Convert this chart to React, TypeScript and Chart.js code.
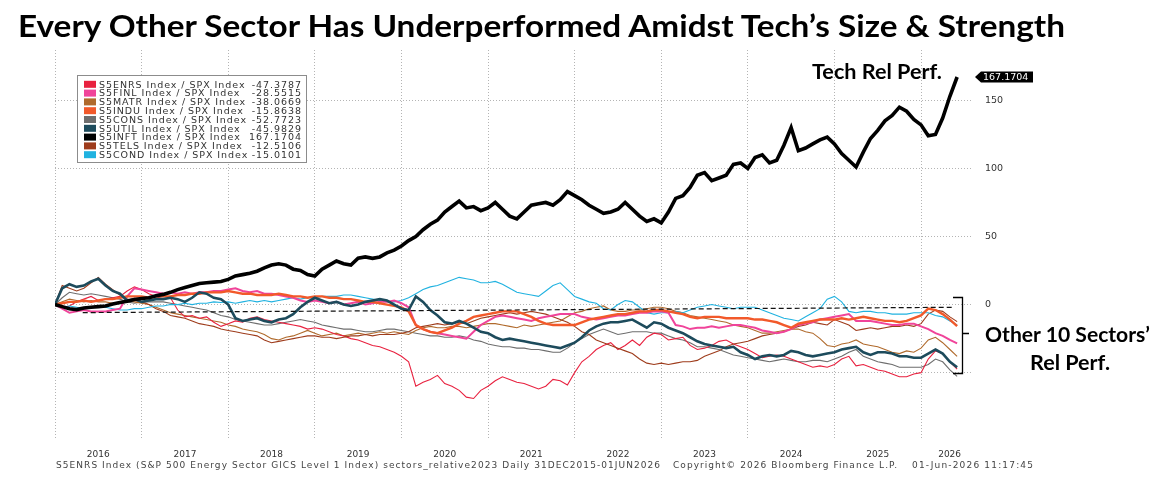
import React, { useEffect, useRef } from "react";
import { Chart, registerables } from "chart.js";

Chart.register(...registerables);

// Monthly observations, 31 Dec 2015 through 01 Jun 2026 (126 points per series)
const START_YEAR = 2016;
const X_MIN = 2016;
const X_MAX = 2026.6;

const yearGrid = [2016, 2017, 2018, 2019, 2020, 2021, 2022, 2023, 2024, 2025, 2026];
const yearLabelPos = [2016.5, 2017.5, 2018.5, 2019.5, 2020.5, 2021.5, 2022.5, 2023.5, 2024.5, 2025.5, 2026.33];
const yearLabels = ["2016", "2017", "2018", "2019", "2020", "2021", "2022", "2023", "2024", "2025", "2026"];
const yTicks = [-50, 0, 50, 100, 150];

// Relative performance vs SPX, in percent
const s5enrs = [
  0, -2, -1, 2, 4, 6, 3, 4, 5, 6, 10, 13,
  11, 8, 6, 4, 5, -4, -9, -8, -10, -9, -13, -16,
  -14, -12, -13, -10, -9, -11, -12, -13, -14, -15, -16, -18,
  -17, -18, -20, -22, -23, -25, -26, -28, -30, -31, -33, -35,
  -38, -42, -60, -57, -55, -52, -58, -60, -63, -68, -69, -63,
  -60, -56, -53, -55, -57, -58, -60, -62, -60, -55, -56, -59,
  -50, -42, -38, -33, -30, -28, -33, -30, -26, -30, -24, -21,
  -22, -26, -25, -24, -30, -33, -32, -30, -27, -26, -29, -31,
  -33, -36, -39, -38, -37, -38, -40, -42, -44, -46, -45, -46,
  -44, -40, -38, -45, -44, -46, -48, -49, -51, -53, -53, -51,
  -50, -40, -34, -36, -42, -47.3787,
];
const s5finl = [
  0, -3, -6, -5, -4, -5, -5, -5, -4, -3, 6, 12,
  11, 10, 9, 8, 9, 8, 9, 8, 9, 9, 10, 10,
  11, 12, 10, 9, 10, 8, 8, 7, 6, 5, 3, 2,
  3, 2, 1, 2, 0, 1, 2, 0, 1, 2, 2, 3,
  1, -2, -15, -18, -20, -21, -22, -23, -24, -25, -20, -15,
  -12, -9, -8, -9, -10, -11, -12, -10, -9, -8, -7, -7,
  -7, -9, -10, -11, -10, -9, -8, -8, -7, -6, -6, -5,
  -5, -6, -15, -16, -18, -17, -17, -16, -17, -16, -15, -15,
  -16, -17, -19, -20, -21, -20, -18, -15, -14, -13, -11, -10,
  -9, -8, -7, -12, -12, -12, -13, -14, -15, -15, -14, -14,
  -16, -18, -21, -23, -26, -28.5515,
];
const s5matr = [
  0, 2, 4, 3, 2, 3, 2, 2, 1, 2, 3, 2,
  1, 0, -2, -4, -6, -7, -8, -9, -10, -11, -12, -13,
  -15, -16, -18, -19, -20, -22, -25, -26, -24, -23, -21, -19,
  -21, -23, -22, -21, -23, -22, -21, -22, -21, -20, -21, -20,
  -21, -22, -19, -17, -16, -17, -17, -16, -16, -17, -16, -15,
  -14, -14, -15, -16, -17, -15, -16, -15, -14, -13, -12, -9,
  -6, -5, -3, -2, -1, -4, -5, -5, -4, -4, -3, -2,
  -2, -3, -5, -6, -8, -9, -10, -11, -12, -13, -15, -16,
  -17, -19, -21, -21, -20, -19, -18, -18, -20, -21, -25, -30,
  -31, -29, -28, -26, -29, -30, -31, -33, -35, -36, -34, -35,
  -32, -26, -24, -28, -33, -38.0669,
];
const s5indu = [
  0, 1, 2, 2, 3, 2, 3, 4, 4, 5, 6, 6,
  6, 5, 6, 6, 6, 7, 7, 8, 8, 9, 9, 9,
  10, 9, 8, 8, 7, 7, 7, 8, 7, 6, 6, 5,
  6, 6, 5, 5, 4, 4, 3, 2, 2, 1, 0, -1,
  -2, -5, -15, -18, -20, -21, -19, -17, -14, -12, -9, -8,
  -7, -6, -5, -5, -5, -7, -9, -12, -14, -15, -15, -15,
  -15, -13, -11, -10, -9, -8, -7, -7, -6, -5, -5, -4,
  -4, -5, -6, -7, -9, -10, -9, -9, -9, -10, -10, -10,
  -10, -11, -11, -12, -13, -15, -17, -14, -13, -12, -11, -11,
  -11, -10, -11, -10, -9, -10, -11, -12, -12, -13, -12, -10,
  -8, -3, -4, -7, -11, -15.8638,
];
const s5cons = [
  0, 5, 9, 8, 7, 8, 7, 6, 5, 4, 2, 1,
  2, 2, 2, 2, 1, 0, -1, -2, -3, -4, -6, -8,
  -9, -11, -12, -13, -14, -15, -15, -14, -13, -12, -11, -12,
  -13, -15, -16, -17, -18, -18, -19, -20, -20, -19, -18, -18,
  -19, -20, -21, -22, -23, -23, -24, -24, -23, -24, -26, -27,
  -29, -30, -31, -31, -32, -32, -33, -33, -34, -35, -35, -32,
  -28, -25, -22, -20, -18, -20, -22, -21, -20, -20, -20, -21,
  -21, -23, -25, -26, -28, -31, -31, -32, -33, -35, -37, -38,
  -39, -40, -41, -42, -41, -40, -41, -42, -42, -41, -41, -42,
  -40, -38, -35, -33, -38, -40, -42, -43, -44, -46, -46, -46,
  -46, -44, -40, -42, -48, -52.7723,
];
const s5util = [
  0, 12, 15, 13, 14, 17, 19, 14, 10, 8, 3, 4,
  2, 3, 4, 4, 5, 4, 2, 5, 9, 8, 5, 4,
  0, -10, -12, -11, -10, -12, -13, -11, -10, -7, -2, 2,
  5, 3, 1, 2, 0, -1, 0, 2, 3, 4, 3, 0,
  -3, -4, 6, 2, -4, -8, -13, -14, -12, -14, -17, -20,
  -21, -24, -26, -25, -26, -27, -28, -29, -30, -31, -32, -30,
  -28, -24, -19, -16, -14, -13, -13, -12, -11, -14, -17, -13,
  -14, -17, -19, -21, -24, -27, -29, -30, -31, -32, -31, -35,
  -37, -40, -38, -37, -38, -37, -34, -35, -37, -38, -37, -36,
  -35, -33, -32, -31, -35, -37, -35, -35, -36, -38, -38, -39,
  -39, -36, -33, -36, -42, -45.9829,
];
const s5inft = [
  0, -1.5, -3, -3.7, -2.5, -2, -1.5, -1, 0.5, 1.5, 2.5, 3.7,
  4.5, 5, 6.5, 7.5, 9, 11, 12.5, 14, 15.5, 16, 16.5, 17,
  18.5, 21, 22, 23, 24.5, 27, 29, 30, 29, 26, 25, 22,
  21, 26, 29, 32, 30, 29, 34, 35, 34, 35, 38, 40,
  43, 47, 50, 55, 59, 62, 68, 72, 76, 71, 72, 69,
  71, 75, 70, 65, 63, 68, 73, 74, 75, 73, 77, 83,
  80, 77, 73, 70, 67, 68, 70, 75, 70, 65, 61, 63,
  60, 68, 78, 80, 86, 95, 97, 91, 93, 95, 103, 104,
  100, 108, 110, 104, 106, 117, 130, 113, 115, 118, 121, 123,
  118, 111, 106, 101, 112, 122, 128, 135, 139, 145, 142, 136,
  132, 124, 125, 137, 153, 167.1704,
];
const s5tels = [
  0, 14, 12, 10, 12, 16, 20, 15, 11, 7, 4, 3,
  2, 0, -3, -5, -8, -9, -10, -12, -14, -15, -16, -18,
  -19, -20, -21, -22, -23, -26, -28, -27, -26, -25, -24, -23,
  -23, -24, -24, -25, -24, -23, -23, -22, -23, -22, -22, -22,
  -21, -20, -17, -16, -15, -14, -15, -14, -13, -14, -12, -10,
  -9, -8, -7, -6, -7, -6, -5, -6, -7, -9, -11, -13,
  -16, -20, -22, -26, -28, -30, -32, -34, -36, -40, -43, -44,
  -43, -44, -43, -42, -42, -41, -38, -36, -34, -31, -29, -28,
  -27, -25, -23, -22, -21, -20, -18, -16, -15, -13, -14, -15,
  -11, -13, -15, -19, -18, -17, -18, -17, -16, -16, -15, -16,
  -14, -7, -4, -5, -9, -12.5106,
];
const s5cond = [
  0, -2, -1, -2, -3, -2, -1, -2, -3, -4, -4, -3,
  -3, -2, -1, -1, 0, 0, 1, 0, 1, 1, 2, 1.5,
  2, 1, 2, 3, 2, 3, 2, 3, 4, 5, 4, 5,
  5, 6, 6, 6, 7, 7, 6, 5, 4, 3, 2, 2,
  3, 5, 8, 11, 13, 14, 16, 18, 20, 19, 18, 16,
  16, 17, 15, 12, 9, 8, 7, 6, 10, 14, 16, 11,
  6, 4, 2, 1, -3, -4, 0, 3, 2, -2, -6, -7,
  -6, -6, -5, -6, -4, -2, -1, 0, -1, -2, -3, -2,
  -2, -2, -4, -6, -8, -10, -11, -12, -9, -6, -3, 4,
  6, 2, -5, -6, -5, -5, -6, -6, -7, -7, -7, -6,
  -6, -6, -8, -9, -12, -15.0101,
];

// Dashed reference trend across the sector pack
const trendX = [2016.32, 2026.38];
const trendY = [-5.9, -2.0];

const sectorNames = ["S5ENRS", "S5FINL", "S5MATR", "S5INDU", "S5CONS", "S5UTIL", "S5INFT", "S5TELS", "S5COND"];
const sectorValues = [s5enrs, s5finl, s5matr, s5indu, s5cons, s5util, s5inft, s5tels, s5cond];
const sectorColors = ["#e8213f", "#f0449a", "#b06a2c", "#f2592a", "#6e6e6e", "#1d4b5c", "#000000", "#9e3c1c", "#20b2e0"];
const sectorWidths = [1.1, 2, 1.1, 2.4, 1.1, 2.6, 3.6, 1.1, 1.1];
// draw priority: lower numbers end up on top
const sectorOrder = [6, 3, 7, 2, 8, 1, 0, 5, 4];

const toPoints = (vals: number[]) => vals.map((v, i) => ({ x: START_YEAR + i / 12, y: v }));

const UI_FONT = '"DejaVu Sans", Verdana, sans-serif';
const HEAD_FONT = 'Lato, "Open Sans", sans-serif';

const lastValueBadge = {
  id: "lastValueBadge",
  afterDatasetsDraw(chart: any) {
    const { ctx, chartArea, scales } = chart;
    const v = s5inft[s5inft.length - 1];
    const y = Math.round(scales.y.getPixelForValue(v));
    const x = chartArea.right + 2;
    ctx.save();
    ctx.fillStyle = "#000";
    ctx.beginPath();
    ctx.moveTo(x, y);
    ctx.lineTo(x + 6, y - 5.5);
    ctx.lineTo(x + 58, y - 5.5);
    ctx.lineTo(x + 58, y + 5.5);
    ctx.lineTo(x + 6, y + 5.5);
    ctx.closePath();
    ctx.fill();
    ctx.fillStyle = "#fff";
    ctx.font = `9.5px ${UI_FONT}`;
    ctx.textBaseline = "middle";
    ctx.fillText(v.toFixed(4), x + 8, y + 0.5);
    ctx.restore();
  },
};

export default function App() {
  const canvasRef = useRef<HTMLCanvasElement>(null);

  useEffect(() => {
    const datasets: any[] = sectorNames.map((name, i) => ({
      label: `${name} Index / SPX Index`,
      data: toPoints(sectorValues[i]),
      borderColor: sectorColors[i],
      backgroundColor: sectorColors[i],
      borderWidth: sectorWidths[i],
      pointRadius: 0,
      tension: 0,
      order: sectorOrder[i],
    }));
    datasets.push({
      label: "trend",
      data: trendX.map((x, i) => ({ x, y: trendY[i] })),
      borderColor: "#111",
      borderWidth: 1.2,
      borderDash: [5, 3],
      pointRadius: 0,
      order: 0.5,
    });

    const gridColor = "#b4b4b4";
    const chart = new Chart(canvasRef.current as HTMLCanvasElement, {
      type: "line",
      data: { datasets },
      plugins: [lastValueBadge],
      options: {
        responsive: false,
        animation: false,
        devicePixelRatio: 1,
        layout: { padding: { left: 55, top: 50, right: 0, bottom: 0 } },
        plugins: { legend: { display: false }, tooltip: { enabled: false } },
        scales: {
          x: {
            type: "linear",
            position: "bottom",
            min: X_MIN,
            max: X_MAX,
            afterBuildTicks: (s: any) => {
              s.ticks = yearGrid.map((v) => ({ value: v }));
            },
            afterFit: (s: any) => {
              s.height = 0;
            },
            ticks: { display: false },
            grid: { color: gridColor, lineWidth: 1, drawTicks: false },
            border: { display: false, dash: [1, 2] },
          },
          x2: {
            type: "linear",
            position: "bottom",
            min: X_MIN,
            max: X_MAX,
            afterBuildTicks: (s: any) => {
              s.ticks = yearLabelPos.map((v) => ({ value: v }));
            },
            afterFit: (s: any) => {
              s.height = 46;
            },
            ticks: {
              autoSkip: false,
              maxRotation: 0,
              padding: 11,
              color: "#333",
              font: { family: UI_FONT, size: 9 },
              callback: (_v: any, i: number) => yearLabels[i],
            },
            grid: { display: false, drawTicks: false },
            border: { display: false },
          },
          y: {
            type: "linear",
            position: "right",
            min: -98,
            max: 187,
            afterBuildTicks: (s: any) => {
              s.ticks = yTicks.map((v) => ({ value: v }));
            },
            afterFit: (s: any) => {
              s.width = 193;
            },
            ticks: {
              padding: 12,
              color: "#333",
              font: { family: UI_FONT, size: 9.5 },
              callback: (v: any) => (Number(v) < 0 ? "" : String(v)),
            },
            grid: { color: gridColor, lineWidth: 1, drawTicks: false },
            border: { display: false, dash: [1, 2] },
          },
        },
      },
    } as any);
    return () => chart.destroy();
  }, []);

  const legendTop = 84.3;
  const legendPitch = 8.8;

  return (
    <div style={{ position: "fixed", left: 0, top: 0, width: 1166, height: 484, background: "#fff", overflow: "hidden" }}>
      <canvas ref={canvasRef} width={1166} height={484} style={{ position: "absolute", left: 0, top: 0, width: 1166, height: 484 }} />
      <svg width={1166} height={484} style={{ position: "absolute", left: 0, top: 0, pointerEvents: "none" }}>
        <text x={18} y={37} fontFamily={HEAD_FONT} fontWeight={700} fontSize={31} fill="#000" textLength={1047} lengthAdjust="spacingAndGlyphs">
          {"Every Other Sector Has Underperformed Amidst Tech\u2019s Size & Strength"}
        </text>

        <text x={812} y={79} fontFamily={HEAD_FONT} fontWeight={700} fontSize={21} fill="#000" textLength={130} lengthAdjust="spacingAndGlyphs">
          Tech Rel Perf.
        </text>

        <text x={985} y={342} fontFamily={HEAD_FONT} fontWeight={700} fontSize={21} fill="#000" textLength={165} lengthAdjust="spacingAndGlyphs">
          {"Other 10 Sectors\u2019"}
        </text>
        <text x={1030} y={370} fontFamily={HEAD_FONT} fontWeight={700} fontSize={21} fill="#000" textLength={80} lengthAdjust="spacingAndGlyphs">
          Rel Perf.
        </text>
        <path d="M953 297.5 H962.5 V373.5 H953 M962.5 333.5 H969" stroke="#000" strokeWidth={1.3} fill="none" />

        <rect x={77.5} y={75.5} width={229} height={87} fill="#fff" stroke="#8c8c8c" strokeWidth={1} />
        {sectorNames.map((name, i) => {
          const cy = legendTop + i * legendPitch;
          const vals = sectorValues[i];
          return (
            <g key={name}>
              <rect x={84} y={cy - 3.5} width={12} height={7} fill={sectorColors[i]} />
              <text x={99} y={cy + 3.3} fontFamily={UI_FONT} fontSize={9.5} letterSpacing={0.95} fill="#333">
                {`${name} Index / SPX Index`}
              </text>
              <text x={302} y={cy + 3.3} fontFamily={UI_FONT} fontSize={9.5} letterSpacing={0.95} fill="#333" textAnchor="end">
                {vals[vals.length - 1].toFixed(4)}
              </text>
            </g>
          );
        })}

        <text x={56} y={467.5} fontFamily={UI_FONT} fontSize={9} fill="#444" textLength={604} lengthAdjust="spacing">
          S5ENRS Index (S&amp;P 500 Energy Sector GICS Level 1 Index) sectors_relative2023 Daily 31DEC2015-01JUN2026
        </text>
        <text x={673} y={467.5} fontFamily={UI_FONT} fontSize={9} fill="#444" textLength={224} lengthAdjust="spacing">
          {"Copyright\u00a9 2026 Bloomberg Finance L.P."}
        </text>
        <text x={912} y={467.5} fontFamily={UI_FONT} fontSize={9} fill="#444" textLength={121} lengthAdjust="spacing">
          01-Jun-2026 11:17:45
        </text>
      </svg>
    </div>
  );
}
